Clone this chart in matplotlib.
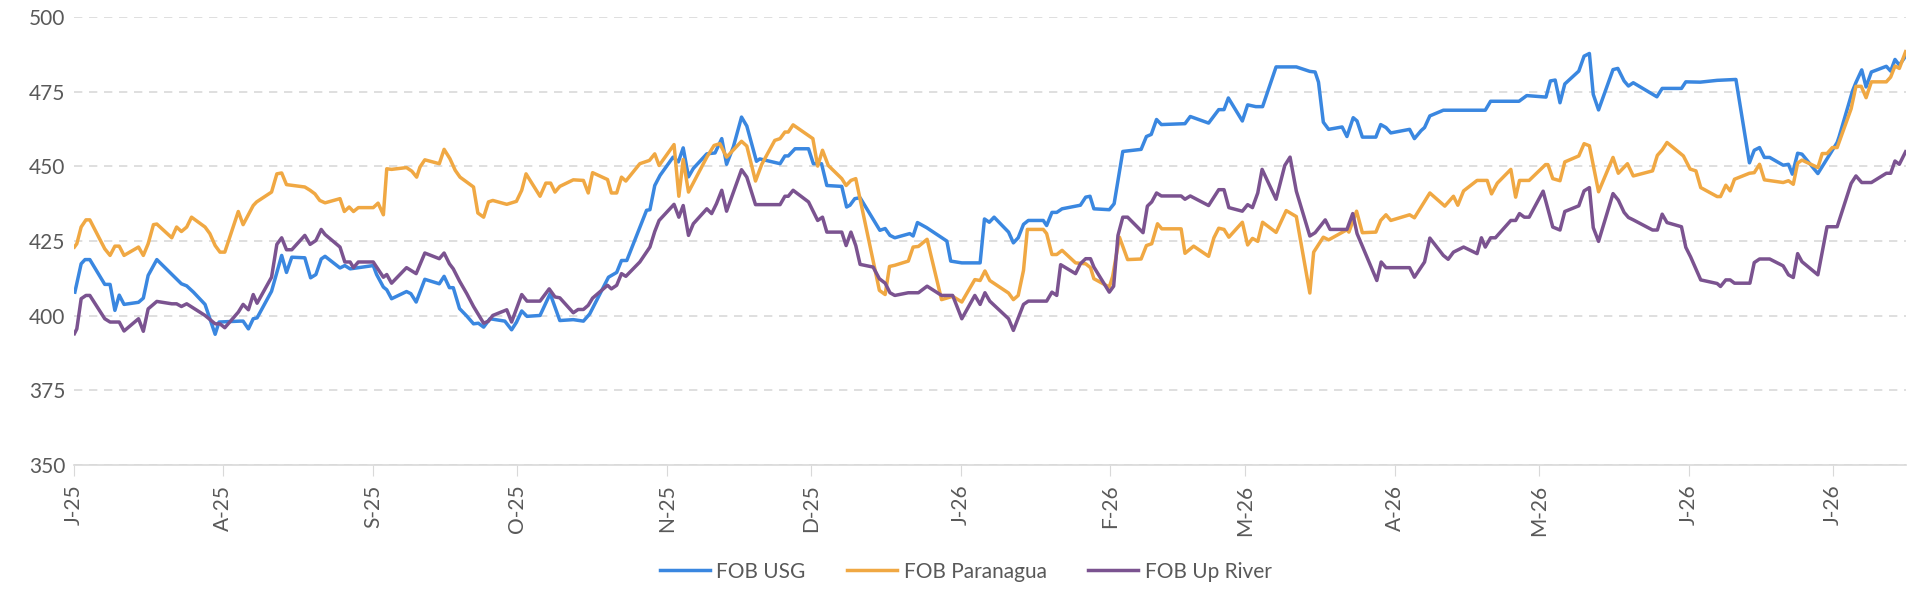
import matplotlib
matplotlib.use("Agg")
import matplotlib.pyplot as plt
import pandas as pd
import numpy as np

base = pd.Timestamp("2025-07-01")

usg_days = [0.2,1.5,2.3,3.3,6.4,7.5,8.5,9.4,10.4,13.4,14.4,15.4,17.2,22.3,23.4,24.8,27.2,29.3,30.1,34.4,35.1,36.2,37.2,38.0,41.0,43.1,44.1,45.2,47.9,49.1,50.2,51.3,52.1,55.2,56.2,57.3,62.1,62.8,64.2,64.9,65.9,69.0,69.9,71.0,72.8,75.8,76.8,77.9,78.7,80.0,81.5,82.9,83.9,85.0,86.3,89.4,90.8,91.8,92.9,94.0,96.7,
    98.8,100.8,103.6,105.7,107.0,110.9,112.6,113.6,114.7,118.8,119.5,120.5,121.6,124.3,125.4,126.4,127.5,128.5,131.3,133.0,134.4,135.4,136.8,138.5,139.6,141.6,142.3,146.5,147.5,148.2,149.6,152.4,153.4,155.1,156.2,159.3,160.3,161.0,162.0,163.1,167.2,168.3,169.3,170.3,173.4,174.1,175.0,176.9,181.1,181.9,184.2,188.0,188.9,189.9,190.9,193.9,194.9,195.9,197.0,198.0,
    201.1,201.8,202.9,203.9,205.0,208.8,209.9,210.8,211.6,214.8,215.8,217.6,221.4,222.5,223.5,224.6,225.6,230.5,231.6,235.4,237.5,238.6,239.5,242.4,243.5,245.2,246.6,249.4,253.6,256.4,257.5,258.2,259.2,260.3,263.1,264.1,265.4,266.2,267.3,270.1,271.1,272.2,273.2,277.1,278.1,279.5,280.2,281.3,284.1,292.8,293.9,299.8,
    301.4,305.4,306.3,307.3,308.3,309.3,312.2,313.3,314.4,315.2,316.3,319.3,320.3,321.6,322.5,323.5,328.4,329.5,333.5,334.4,337.4,340.9,344.8,347.6,348.6,349.7,350.7,351.8,354.6,355.7,356.5,357.6,358.5,361.8,365.8,366.2,369.0,369.7,370.9,371.8,372.9,376.0,376.9,377.8,378.7,380.0]
usg_vals = [407.9,417.4,418.8,418.8,410.5,410.5,401.8,406.9,403.8,404.5,405.9,413.5,418.8,410.7,410.0,407.9,403.8,393.8,397.9,398.2,398.2,395.6,399.0,399.3,408.2,420.2,414.5,419.6,419.4,412.7,413.8,419.0,419.9,416.0,416.8,415.7,416.8,413.8,409.6,408.7,405.7,408.1,407.4,404.6,412.2,410.7,413.2,409.4,409.4,402.4,399.9,397.3,397.5,396.2,399.0,398.2,395.3,397.8,401.6,399.8,400.1,
    407.4,398.4,398.7,398.2,400.6,412.9,414.5,418.5,418.5,435.3,435.5,443.6,447.0,453.1,451.5,456.2,446.5,449.3,454.2,454.5,459.3,450.7,456.5,466.5,463.5,451.7,452.5,450.9,453.5,453.5,455.9,455.9,450.9,450.9,443.6,443.3,436.4,437.0,439.2,439.5,428.6,429.2,426.9,426.1,427.5,426.7,431.2,429.5,425.0,418.3,417.7,417.7,432.4,431.3,433.0,428.0,424.4,426.1,430.6,431.9,
    431.9,430.2,434.6,434.6,435.8,437.0,439.7,440.0,435.8,435.5,437.5,455.0,455.7,460.0,460.7,465.7,464.0,464.3,466.7,464.5,469.0,469.0,472.9,465.2,470.6,470.0,470.0,483.3,483.3,481.8,481.6,478.2,464.8,462.4,463.2,460.0,466.3,465.2,459.8,459.8,464.0,463.0,461.2,462.4,459.3,462.0,463.0,466.9,468.8,468.8,471.8,471.8,
    473.7,473.2,478.6,478.9,471.3,477.6,481.9,486.9,487.8,474.1,468.9,482.4,482.8,478.6,476.9,478.0,473.3,476.1,476.1,478.3,478.2,478.8,479.1,451.2,455.4,456.3,453.0,453.0,450.4,450.7,447.4,454.4,454.1,447.6,458.0,459.9,475.3,478.1,482.3,476.6,481.6,483.5,481.9,485.8,483.9,486.9]

par_days = [0.1,0.6,1.5,2.5,3.3,6.4,7.5,8.5,9.4,10.4,13.4,14.4,15.4,16.5,17.2,20.3,21.3,22.3,23.4,24.4,27.2,28.2,29.3,30.3,31.3,34.1,35.1,37.2,37.9,41.0,42.1,43.1,44.1,47.9,49.0,50.0,51.0,52.1,55.2,56.1,57.1,58.0,59.0,62.1,63.1,64.2,64.9,65.9,69.0,70.1,71.1,71.8,72.8,75.8,76.8,78.0,79.1,80.1,82.9,83.8,85.0,86.0,86.9,89.8,91.8,92.9,93.8,
    96.7,97.9,98.9,99.8,100.8,103.6,105.7,106.7,107.6,110.7,111.5,112.6,113.6,114.5,117.4,119.4,120.5,121.4,124.5,125.5,126.4,127.5,131.3,132.8,134.0,135.4,138.5,139.6,141.4,142.7,145.4,146.5,147.5,148.2,149.2,153.3,154.3,155.3,156.5,159.3,160.2,161.2,162.2,167.1,168.3,169.2,170.3,173.1,174.1,175.2,177.0,180.0,182.3,184.2,186.9,188.0,189.0,190.0,193.9,194.9,195.9,197.0,197.8,
    201.1,201.8,202.9,203.9,205.0,207.8,209.9,210.9,211.6,214.8,215.5,216.9,218.6,221.4,222.5,223.6,224.8,225.7,229.7,230.5,232.3,235.4,236.5,237.5,238.6,239.6,242.4,243.5,244.5,245.6,246.6,249.4,251.5,253.6,256.4,257.2,259.2,260.3,264.1,264.5,266.1,267.3,270.1,271.1,272.2,273.2,277.1,278.1,281.3,284.4,286.2,287.1,288.3,291.1,293.2,294.1,295.3,298.1,299.1,299.9,301.9,305.3,305.8,306.8,
    308.3,309.3,312.2,313.3,314.4,316.3,319.3,320.4,322.3,323.5,327.5,328.5,329.5,330.5,333.9,335.3,336.5,337.5,340.9,341.6,342.7,343.6,344.5,347.6,348.6,349.7,350.7,354.6,355.7,356.7,357.6,358.5,361.8,362.7,363.7,364.8,365.8,368.7,369.7,370.8,371.8,372.9,376.0,376.9,377.8,378.7,380.0]
par_vals = [423.0,424.1,429.7,432.1,432.1,422.4,420.2,423.3,423.3,420.2,423.0,420.2,424.1,430.5,430.7,426.1,429.7,428.2,429.7,433.0,429.7,427.5,423.5,421.3,421.3,434.9,430.5,436.9,438.1,441.4,447.5,447.8,443.9,443.1,442.0,440.8,438.6,437.8,439.2,434.9,436.4,434.9,436.2,436.2,437.7,433.8,449.2,449.0,449.6,448.4,446.4,449.8,452.2,450.9,455.7,452.6,448.7,446.4,443.1,434.4,433.0,438.1,438.6,437.3,438.3,442.0,447.5,
    440.0,444.4,444.4,441.4,443.3,445.5,445.3,441.1,447.9,445.6,441.1,441.1,446.4,445.1,450.9,452.0,454.2,450.3,457.3,440.0,452.3,441.4,453.1,457.0,457.6,453.1,458.4,456.8,445.1,450.7,458.7,459.3,461.5,461.5,463.9,459.3,450.1,455.4,450.3,445.9,443.6,445.3,445.9,408.5,407.1,416.5,416.9,418.3,423.0,423.2,425.6,405.4,406.5,404.6,412.1,411.8,415.0,411.8,407.6,405.4,406.8,415.2,428.9,
    428.9,427.5,420.5,420.5,421.9,417.7,417.4,416.1,412.4,409.6,413.2,426.3,418.8,419.0,423.5,424.1,430.8,429.1,429.1,420.9,423.3,419.9,426.1,429.3,428.9,426.3,431.3,423.7,425.9,424.9,431.3,427.9,435.2,433.2,407.6,421.3,426.3,425.4,428.8,428.0,435.0,427.8,428.0,431.9,433.8,431.9,433.8,432.8,441.1,436.7,440.0,437.0,441.8,445.3,445.3,440.8,444.4,449.0,439.7,445.3,445.3,450.6,450.6,445.9,
    445.2,451.5,453.5,457.6,456.9,441.5,453.0,447.7,450.9,446.8,448.5,453.7,455.5,458.0,453.5,449.1,448.5,442.9,439.9,439.9,443.7,441.8,445.7,447.7,447.9,450.7,445.5,444.6,445.2,444.0,451.1,452.1,449.6,454.3,454.3,456.3,456.3,469.3,476.8,476.8,473.0,478.3,478.3,479.9,483.6,482.8,488.4]

upr_days = [0.1,0.6,1.5,2.5,3.3,6.4,7.5,9.4,10.4,13.4,14.4,15.4,17.2,20.3,21.3,22.3,23.4,27.2,29.3,30.3,31.3,34.1,35.1,36.2,37.2,38.0,41.0,42.1,43.1,44.1,45.2,47.9,49.0,50.2,51.3,52.1,55.2,56.2,57.3,58.0,59.0,62.1,64.2,64.9,65.9,69.0,71.0,72.8,75.8,76.8,77.9,78.7,80.0,81.5,82.9,85.0,86.0,86.9,89.8,90.8,92.9,94.0,
    96.7,98.6,99.8,100.8,103.6,104.6,105.7,106.7,107.6,110.7,111.5,112.6,113.6,114.5,117.4,119.5,120.5,121.4,124.5,125.5,126.4,127.5,128.5,131.3,132.3,133.3,134.4,135.4,138.5,139.6,141.4,146.5,147.5,148.2,149.2,152.4,154.3,155.3,156.2,159.3,160.2,161.2,162.2,163.1,165.8,167.1,168.3,169.3,170.3,173.1,175.2,177.0,180.0,182.3,184.2,186.9,188.0,189.0,190.0,193.9,194.9,197.0,198.0,
    201.8,202.9,203.9,204.7,207.8,208.8,209.9,210.9,211.6,214.8,215.7,216.6,217.6,218.6,221.8,222.7,223.6,224.6,225.6,229.7,230.5,231.6,235.4,237.5,238.6,239.6,242.4,243.5,244.5,245.6,246.5,249.4,251.2,252.3,253.6,256.4,257.5,259.6,260.6,264.1,265.3,266.2,270.3,271.2,272.2,277.1,278.1,280.2,281.3,284.1,285.1,286.2,288.3,291.1,292.0,292.8,293.9,294.9,298.1,299.1,299.9,300.9,301.9,304.8,306.8,
    308.3,309.3,312.2,313.3,314.4,315.2,316.3,319.3,320.4,321.6,322.5,323.5,327.5,328.5,329.5,330.5,333.5,334.4,335.4,337.5,340.9,341.6,342.7,343.6,344.5,347.7,348.6,349.7,351.8,354.6,355.7,356.7,357.6,358.5,361.8,363.7,365.8,368.7,369.7,370.9,372.9,376.0,376.9,377.8,378.7,380.0]
upr_vals = [394.0,395.6,405.7,406.8,406.8,399.0,397.9,397.9,394.9,399.0,394.8,402.3,404.8,404.0,404.0,403.1,404.0,400.1,397.3,397.3,396.0,401.2,403.8,402.0,407.1,404.2,412.9,423.9,426.1,422.1,422.1,426.9,423.9,425.2,428.9,427.2,423.0,418.0,418.0,416.1,418.0,418.0,412.9,413.8,410.9,416.1,414.1,421.0,419.1,421.0,417.4,415.7,411.6,407.4,403.1,397.5,398.2,400.1,402.0,397.9,407.1,404.9,
    404.9,409.0,406.3,406.0,401.0,402.1,402.1,403.5,405.9,410.2,409.0,410.2,414.1,413.2,418.0,423.0,428.2,431.9,437.3,433.0,436.9,426.9,430.8,435.8,434.2,437.5,442.0,435.0,448.9,446.4,437.2,437.2,440.0,440.0,442.0,438.1,431.9,433.0,428.0,428.0,423.5,428.0,423.5,417.2,416.3,412.4,410.9,407.7,406.8,407.7,407.7,409.9,406.8,406.8,399.0,406.8,403.8,407.7,404.9,399.0,395.1,403.8,404.9,
    404.9,407.9,406.8,417.1,414.1,417.4,419.1,419.1,416.3,407.9,409.9,426.9,433.0,433.0,427.8,436.7,438.1,441.1,440.1,440.1,439.0,440.1,436.9,442.2,442.2,436.2,435.0,437.2,436.2,441.1,449.0,439.0,450.3,453.1,441.7,426.7,427.8,432.1,428.9,428.9,434.2,427.5,411.8,418.0,416.1,416.1,412.9,418.0,426.0,420.2,418.9,421.3,423.0,420.8,426.1,423.0,426.1,426.1,431.9,431.9,434.2,433.0,433.0,441.7,429.7,
    428.7,434.9,436.8,441.8,442.9,429.5,424.9,440.9,438.7,434.6,432.9,432.1,428.7,428.7,434.0,431.2,429.8,422.9,419.7,412.0,410.8,409.8,412.0,412.0,410.9,410.9,417.8,419.0,419.0,416.7,413.7,412.8,420.8,418.1,413.7,429.8,429.8,444.3,446.8,444.6,444.6,447.7,447.7,451.8,450.7,454.9]

series_names = ["FOB USG", "FOB Paranagua", "FOB Up River"]
series_colors = ["#3A87E0", "#F0A843", "#7B5390"]

def to_dates(days):
    return [base + pd.Timedelta(days=float(d)) for d in days]

month_starts = pd.date_range("2025-07-01", "2026-07-01", freq="MS")
month_labels = [f"{m.strftime('%b')[0]}-{m.strftime('%y')}" for m in month_starts]

plt.rcParams["font.family"] = ["Lato", "DejaVu Sans"]
fig = plt.figure(figsize=(19.2, 6.08), dpi=100)
ax = fig.add_axes([0.0385, 0.235, 0.954, 0.737])

for days, vals, name, col in [(usg_days, usg_vals, series_names[0], series_colors[0]),
                              (par_days, par_vals, series_names[1], series_colors[1]),
                              (upr_days, upr_vals, series_names[2], series_colors[2])]:
    ax.plot(to_dates(days), vals, color=col, lw=2.5, label=name, solid_joinstyle="round")

ax.set_ylim(350, 500)
ax.set_yticks(np.arange(350, 501, 25))
ax.set_xlim(base, base + pd.Timedelta(days=380))
ax.set_xticks(month_starts)
ax.set_xticklabels(month_labels, rotation=90)
ax.grid(axis="y", color="#d9d9d9", ls=(0, (5, 4)), lw=1.2)
ax.set_axisbelow(True)
for s in ["top", "right", "left"]:
    ax.spines[s].set_visible(False)
ax.spines["bottom"].set_color("#d9d9d9")
ax.spines["bottom"].set_linewidth(1.2)
ax.tick_params(axis="y", length=0, labelsize=15, labelcolor="#595959", pad=6)
ax.tick_params(axis="x", length=8, color="#d9d9d9", labelsize=15, labelcolor="#595959", pad=6)

leg = fig.legend(loc="center", bbox_to_anchor=(0.503, 0.06), ncol=3, frameon=False,
                 fontsize=15, handlelength=2.4, columnspacing=2.0, handletextpad=0.3)
for t in leg.get_texts():
    t.set_color("#595959")

fig.savefig("out.png", dpi=100)
